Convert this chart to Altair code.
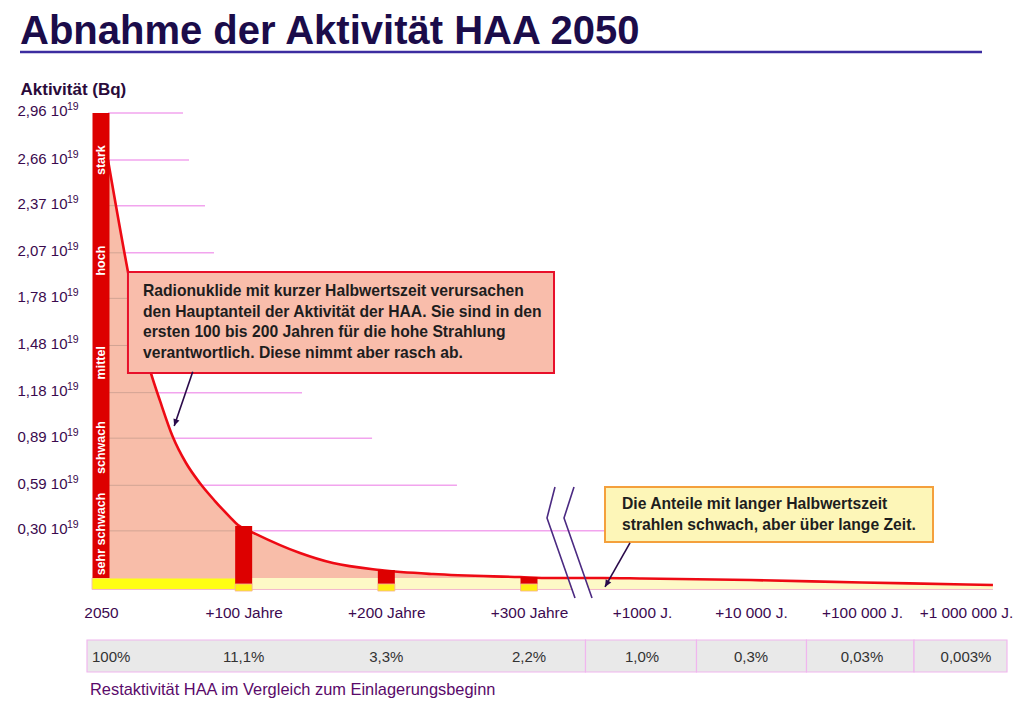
import altair as alt
import pandas as pd

# ------------------------------------------------------------------ data
x_years = [0, 100, 200, 300, 1000, 10000, 100000, 1000000]
x_labels = ["2050", "+100 Jahre", "+200 Jahre", "+300 Jahre",
            "+1000 J.", "+10 000 J.", "+100 000 J.", "+1 000 000 J."]
rest_pct = ["100%", "11,1%", "3,3%", "2,2%", "1,0%", "0,3%", "0,03%", "0,003%"]

y_ticks = [0.30, 0.59, 0.89, 1.18, 1.48, 1.78, 2.07, 2.37, 2.66, 2.96]

# total activity (10^19 Bq)
curve_years = [4.9, 18.9, 26.6, 34.8, 41.4, 50.3, 59.6, 69.4, 79.9, 90.4, 96.0,
               107.2, 139.5, 162.6, 195.6, 232.7, 293.7, 430, 758, 1000, 10000,
               100000, 1000000, 1940000]
curve_act = [2.66, 1.95, 1.60, 1.31, 1.127, 0.899, 0.732, 0.603, 0.490, 0.388, 0.337,
             0.286, 0.159, 0.095, 0.051, 0.025, 0.006, 0.0, 0.0, -0.003, -0.013,
             -0.029, -0.041, -0.045]
# top of the long-lived (yellow) base band
long_act = [0, 0, 0, 0, 0, 0, 0, 0, 0, 0, 0,
            0, 0, 0, 0, 0, 0, 0, 0, -0.003, -0.013,
            -0.029, -0.041, -0.045]
band_base = -0.073

bar_years = [0, 100, 200, 300]
bar_top = [2.96, 0.331, 0.051, 0.006]
bar_bottom = [0.0, -0.038, -0.038, -0.038]
foot_top = -0.038
foot_bottom = -0.083

levels = ["stark", "hoch", "mittel", "schwach", "sehr schwach"]
level_act = [2.66, 2.02, 1.37, 0.83, 0.28]

grid_gray_start = 4.9
grid_pink_start = [107, 69.4, 50.5, 39.5, 31, 23, 16.5, 10.7, 4.9, 4.9]
grid_end = [765, 249.5, 190, 140.9, 117, 97.4, 79.2, 72.9, 61.7, 57.5]

box1_lines = ["Radionuklide mit kurzer Halbwertszeit verursachen",
              "den Hauptanteil der Aktivität der HAA. Sie sind in den",
              "ersten 100 bis 200 Jahren für die hohe Strahlung",
              "verantwortlich. Diese nimmt aber rasch ab."]
box2_lines = ["Die Anteile mit langer Halbwertszeit",
              "strahlen schwach, aber über lange Zeit."]

# ------------------------------------------------------------------ scales
FONT = "Liberation Sans"
xscale = alt.Scale(type="linear",
                   domain=[-9.11, 300, 1000, 10000, 100000, 1000000, 2500000],
                   range=[0, 441, 554, 663, 774, 878, 921],
                   nice=False, zero=False, padding=0)
yscale = alt.Scale(domain=[-0.1082, 3.0427], nice=False, zero=False, padding=0)

lbl_expr = " : ".join(f"datum.value == {v} ? '{l}'" for v, l in zip(x_years, x_labels)) + " : ''"
xaxis = alt.Axis(values=x_years, labelExpr=lbl_expr, title=None, ticks=False,
                 domain=False, grid=False, labelPadding=10, labelFontSize=15.4,
                 labelColor="#3c0a50", labelFont=FONT, labelOverlap=False,
                 labelFlush=False, labelBound=False)
yaxis = alt.Axis(values=y_ticks,
                 labelExpr="replace(format(datum.value, '.2f'), '.', ',') + ' 10'",
                 title="Aktivität (Bq)", titleAngle=0, titleX=-68, titleY=-6,
                 titleAlign="left", titleBaseline="alphabetic", titleFontSize=17,
                 titleFont=FONT, titleFontWeight="bold", titleColor="#2a0a3a",
                 ticks=False, domain=False, grid=False, labelPadding=21,
                 labelFontSize=15, labelColor="#3a0a4e", labelFont=FONT,
                 labelOverlap=False, labelOffset=-2)


def X(f):
    return alt.X(f, type="quantitative", scale=xscale, axis=xaxis)


def Y(f):
    return alt.Y(f, type="quantitative", scale=yscale, axis=yaxis)


# ------------------------------------------------------------------ layers
curve_df = pd.DataFrame({"yr": curve_years, "act": curve_act, "low": long_act,
                         "base": band_base})

# exponent of the y tick labels (10^19)
exp_txt = alt.Chart(pd.DataFrame({"v": y_ticks})).mark_text(
    align="left", baseline="middle", dy=-5.5, fontSize=10.5, font=FONT,
    color="#3a0a4e").encode(x=alt.value(-21), y=Y("v"), text=alt.value("19"))

# table (rest activity)
bounds = [-9.8] + [(a + b) / 2 for a, b in zip(x_years[3:-1], x_years[4:])] + [2430000]
cells = pd.DataFrame({"x0": bounds[:-1], "x1": bounds[1:]})
table_rect = alt.Chart(cells).mark_rect(fill="#e9e9e9", stroke="#f0b6ee",
                                        strokeWidth=1.2).encode(
    x=X("x0"), x2="x1", y=alt.value(540), y2=alt.value(572))
table_text = alt.Chart(pd.DataFrame({"yr": x_years[1:], "pct": rest_pct[1:]})).mark_text(
    fontSize=15, color="#333333", font=FONT).encode(
    x=X("yr"), y=alt.value(557), text="pct:N")
table_first = alt.Chart(pd.DataFrame({"yr": [bounds[0]], "pct": rest_pct[:1]})).mark_text(
    fontSize=15, color="#333333", font=FONT, align="left", dx=5).encode(
    x=X("yr"), y=alt.value(557), text="pct:N")

bright_band = alt.Chart(pd.DataFrame({"a": [-6.3], "b": [95.3], "lo": [band_base], "hi": [0.0]})
                        ).mark_rect(color="#ffff12", stroke="#f5c0b0", strokeWidth=1).encode(
    x=X("a"), x2="b", y=Y("lo"), y2="hi")

pale_band = alt.Chart(curve_df[curve_df.yr >= 96]).mark_area(
    color="#fdf9c6", interpolate="monotone").encode(x=X("yr"), y=Y("base"), y2="low")
band_edge = alt.Chart(pd.DataFrame({"a": [-6.3], "b": [1940000], "v": [band_base]})).mark_rule(
    color="#f3b8cc", strokeWidth=1).encode(x=X("a"), x2="b", y=Y("v"))

salmon = alt.Chart(curve_df).mark_area(color="#f8bda9", interpolate="monotone").encode(
    x=X("yr"), y=Y("act"), y2="low")

grid_df = pd.DataFrame({"v": y_ticks, "g0": grid_gray_start,
                        "p0": grid_pink_start, "p1": grid_end})
grid_gray = alt.Chart(grid_df[grid_df.p0 > grid_gray_start + 1]).mark_rule(
    color="#b99585", strokeWidth=1, opacity=0.6).encode(x=X("g0"), x2="p0", y=Y("v"))
grid_pink = alt.Chart(grid_df).mark_rule(color="#f2a4ee", strokeWidth=1.5).encode(
    x=X("p0"), x2="p1", y=Y("v"))

# axis break
brk = pd.DataFrame({"yr": [461, 411.5, 585, 578.8, 516.8, 690.3],
                    "v": [0.579, 0.382, -0.127, 0.579, 0.382, -0.127],
                    "side": ["l", "l", "l", "r", "r", "r"], "i": [0, 1, 2, 0, 1, 2]})
brk_cover = alt.Chart(pd.DataFrame({"yr": [508.8, 637.6], "v": [0.25, -0.127]})).mark_line(
    color="white", strokeWidth=15, strokeCap="butt").encode(x=X("yr"), y=Y("v"))
brk_lines = alt.Chart(brk).mark_line(color="#4b2a82", strokeWidth=1.6).encode(
    x=X("yr"), y=Y("v"), order=alt.Order("i:Q"), detail="side:N")

curve = alt.Chart(curve_df).mark_line(color="#ee0a14", strokeWidth=2.6,
                                      interpolate="monotone").encode(x=X("yr"), y=Y("act"))

bars_df = pd.DataFrame({"yr": bar_years, "top": bar_top, "bot": bar_bottom})
bars = alt.Chart(bars_df).mark_bar(color="#dd0000", size=17, orient="vertical").encode(
    x=X("yr"), y=Y("bot"), y2="top")
feet = alt.Chart(pd.DataFrame({"yr": bar_years[1:], "a": foot_top, "b": foot_bottom})).mark_bar(
    color="#ffee10", size=17, orient="vertical", stroke="#f5b0a0", strokeWidth=0.8).encode(
    x=X("yr"), y=Y("b"), y2="a")

level_txt = alt.Chart(pd.DataFrame({"yr": 0, "v": level_act, "t": levels})).mark_text(
    angle=270, color="white", fontWeight="bold", fontSize=12.5, font=FONT).encode(
    x=X("yr"), y=Y("v"), text="t:N")

# annotation boxes
box1 = alt.Chart(pd.DataFrame({"a": [18.9], "b": [454.9], "lo": [1.305], "hi": [1.948]})).mark_rect(
    fill="#f9bdab", stroke="#e8102a", strokeWidth=2).encode(x=X("a"), x2="b", y=Y("lo"), y2="hi")
box1_txt = alt.Chart(pd.DataFrame({"yr": [29.4], "v": [1.871], "t": ["\n".join(box1_lines)]})).mark_text(
    align="left", baseline="top", lineBreak="\n", lineHeight=20.7, fontSize=15.7,
    fontWeight="bold", font=FONT, color="#1e1e1e").encode(x=X("yr"), y=Y("v"), text="t:N")
box2 = alt.Chart(pd.DataFrame({"a": [770.8], "b": [714423], "lo": [0.229], "hi": [0.579]})).mark_rect(
    fill="#fdf6b8", stroke="#f4a03c", strokeWidth=2).encode(x=X("a"), x2="b", y=Y("lo"), y2="hi")
box2_txt = alt.Chart(pd.DataFrame({"yr": [876], "v": [0.516], "t": ["\n".join(box2_lines)]})).mark_text(
    align="left", baseline="top", lineBreak="\n", lineHeight=21.5, fontSize=15.7,
    fontWeight="bold", font=FONT, color="#1e1e1e").encode(x=X("yr"), y=Y("v"), text="t:N")

arrows = pd.DataFrame({"yr": [64.3, 51.3, 925.7, 770.8], "v": [1.313, 0.967, 0.223, -0.057],
                       "k": ["a", "a", "b", "b"]})
arrow_lines = alt.Chart(arrows).mark_line(color="#2a0a4a", strokeWidth=1.6).encode(
    x=X("yr"), y=Y("v"), detail="k:N")
head_shape = "M0,0L-0.45,1L0.45,1Z"
head1 = alt.Chart(pd.DataFrame({"yr": [51.3], "v": [0.967]})).mark_point(
    shape=head_shape, filled=True, size=196, angle=199, color="#2a0a4a", opacity=1).encode(
    x=X("yr"), y=Y("v"))
head2 = alt.Chart(pd.DataFrame({"yr": [770.8], "v": [-0.057]})).mark_point(
    shape=head_shape, filled=True, size=196, angle=210, color="#2a0a4a", opacity=1).encode(
    x=X("yr"), y=Y("v"))

one = pd.DataFrame({"k": [0]})
title_rule = alt.Chart(one).mark_rule(color="#3c2ca0", strokeWidth=2.5).encode(
    x=alt.value(-68), x2=alt.value(894), y=alt.value(-48))
footnote = alt.Chart(one).mark_text(align="left", baseline="middle", fontSize=16.4,
                                    color="#5a0a6a", font=FONT).encode(
    x=alt.value(2), y=alt.value(590),
    text=alt.value("Restaktivität HAA im Vergleich zum Einlagerungsbeginn"))

chart = alt.layer(
    table_rect, table_text, table_first, bright_band, pale_band, band_edge, salmon,
    grid_gray, grid_pink, brk_cover, curve, bars, feet, level_txt, brk_lines,
    box1, box1_txt, box2, box2_txt, arrow_lines, head1, head2, title_rule, footnote,
    exp_txt
).properties(
    width=928, height=495,
    background="white",
    autosize=alt.AutoSizeParams(type="none"),
    padding={"left": 80, "top": 92, "right": 0, "bottom": 105},
    title=alt.TitleParams("Abnahme der Aktivität HAA 2050", anchor="start", frame="group",
                          dx=-68, dy=11, fontSize=40, font=FONT, fontWeight="bold",
                          color="#1b0c4a", offset=10),
).configure_view(strokeWidth=0, stroke=None)

chart.save("out.html", embed_options={"renderer": "svg", "actions": False})
